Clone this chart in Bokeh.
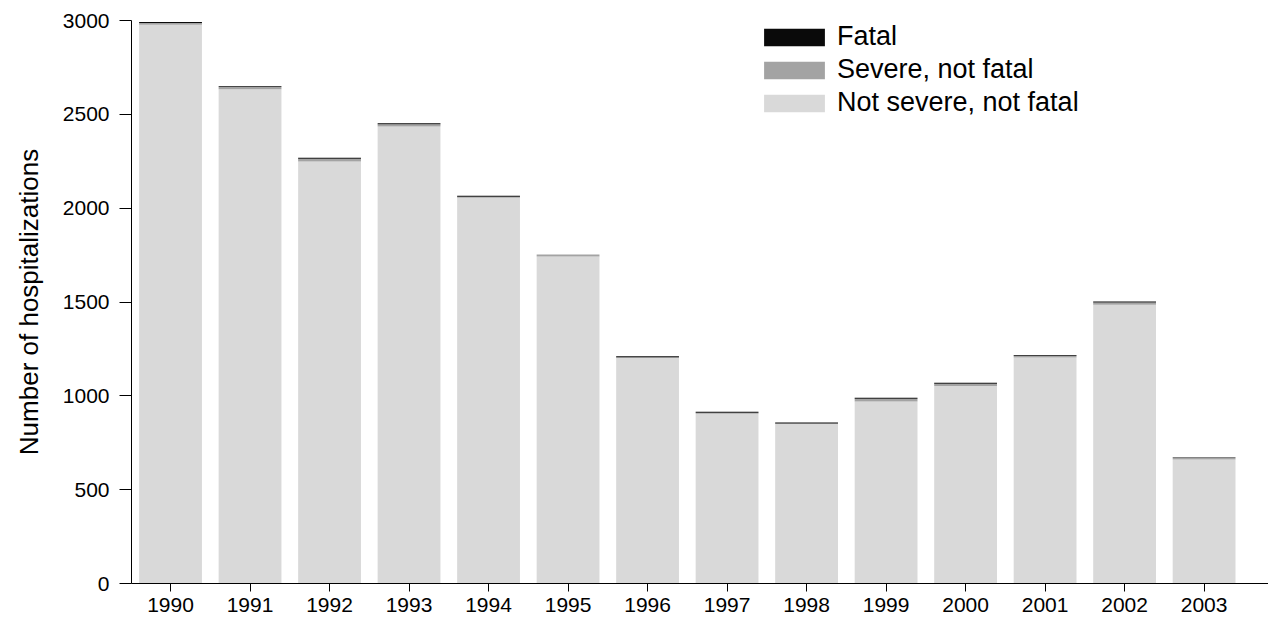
from bokeh.plotting import figure
from bokeh.models import Range1d, FixedTicker, Legend, LegendItem
from bokeh.embed import file_html
from bokeh.resources import INLINE

years = [1990, 1991, 1992, 1993, 1994, 1995, 1996, 1997, 1998, 1999, 2000, 2001, 2002, 2003]
year_labels = ["1990", "1991", "1992", "1993", "1994", "1995", "1996", "1997", "1998", "1999", "2000", "2001", "2002", "2003"]
not_severe = [2977, 2633, 2249, 2435, 2056, 1743, 1202, 905, 850, 970, 1053, 1204, 1486, 661]
severe = [10, 12, 14, 12, 5, 10, 4, 5, 3, 15, 12, 9, 12, 8]
fatal = [5, 5, 5, 5, 5, 0, 5, 5, 5, 5, 5, 5, 5, 3]
series_names = ["Not severe, not fatal", "Severe, not fatal", "Fatal"]
colors = ["#d9d9d9", "#a3a3a3", "#0a0a0a"]
y_ticks = [0, 500, 1000, 1500, 2000, 2500, 3000]

FONT = "Liberation Sans"
TOP = 20
BOTTOM = 38
H = 621

p = figure(width=1268, height=H, output_backend="svg", toolbar_location=None,
           x_range=Range1d(1989.509, 2003.81), y_range=Range1d(0, 3000),
           min_border_left=131, min_border_right=0, min_border_top=TOP, min_border_bottom=BOTTOM)
p.outline_line_color = None
p.xgrid.visible = False
p.ygrid.visible = False

data = dict(x=years, ns=not_severe, sv=severe, ft=fatal)
renderers = p.vbar_stack(["ns", "sv", "ft"], x="x", width=0.79, source=data,
                         color=colors, line_color=None)

# axes
xa = p.xaxis[0]
xa.ticker = FixedTicker(ticks=years)
xa.major_label_overrides = {y: l for y, l in zip(years, year_labels)}
xa.major_tick_out = 8
xa.major_tick_in = 0
xa.minor_tick_out = 0
xa.minor_tick_in = 0
xa.major_label_standoff = 6
xa.major_label_text_font = FONT
xa.major_label_text_font_size = "21px"
xa.major_label_text_color = "#000000"
xa.axis_line_color = "#000000"
xa.major_tick_line_color = "#000000"

ya = p.yaxis[0]
ya.ticker = FixedTicker(ticks=y_ticks)
ya.major_tick_out = 12
ya.major_tick_in = 0
ya.minor_tick_out = 0
ya.minor_tick_in = 0
ya.major_label_standoff = 10
ya.major_label_text_font = FONT
ya.major_label_text_font_size = "21px"
ya.major_label_text_color = "#000000"
ya.axis_line_color = "#000000"
ya.major_tick_line_color = "#000000"
ya.axis_label = "Number of hospitalizations"
ya.axis_label_text_font = FONT
ya.axis_label_text_font_size = "26px"
ya.axis_label_text_font_style = "normal"
ya.axis_label_text_color = "#000000"
ya.axis_label_standoff = 16

frame_bottom = H - BOTTOM
items = [LegendItem(label=series_names[2], renderers=[renderers[2]]),
         LegendItem(label=series_names[1], renderers=[renderers[1]]),
         LegendItem(label=series_names[0], renderers=[renderers[0]])]
legend = Legend(items=items, location=(625, frame_bottom - 20 - 99), orientation="vertical",
                glyph_width=76, glyph_height=22, label_height=33, spacing=0,
                padding=0, margin=0, label_standoff=5,
                label_text_font=FONT, label_text_font_size="27px",
                label_text_color="#000000",
                border_line_color=None, background_fill_alpha=0)
p.add_layout(legend, "center")

open("out.html", "w").write(file_html(p, INLINE))
